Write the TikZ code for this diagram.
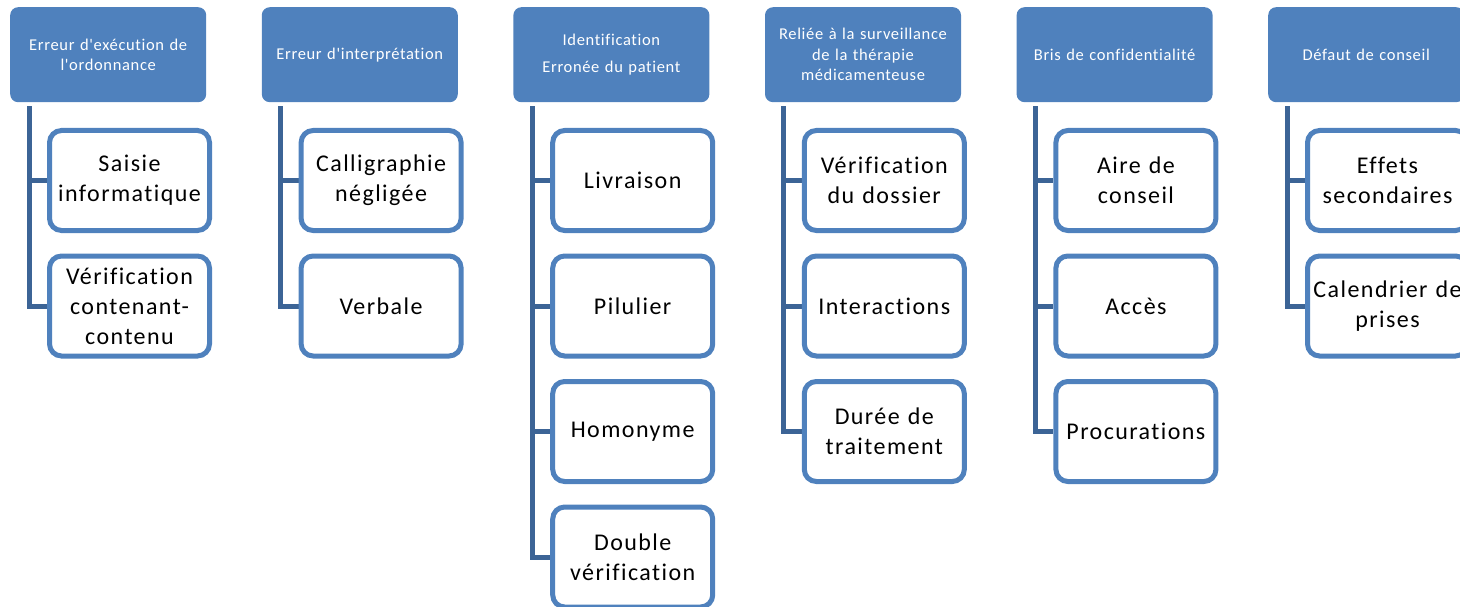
\documentclass[tikz,border=0pt]{standalone}
\usepackage{fontspec}
\setmainfont{Carlito}
\newfontfamily\hfont[LetterSpace=4,Ligatures=NoCommon]{Carlito}
\newfontfamily\cfont[LetterSpace=6,Ligatures=NoCommon]{Carlito}
\usetikzlibrary{backgrounds}
\definecolor{hblue}{HTML}{4F81BD}
\definecolor{lblue}{HTML}{3C6496}
\begin{document}
\begin{tikzpicture}[x=1pt,y=-1pt,
 head/.style={fill=hblue, rounded corners=8pt, minimum width=196pt, minimum height=95pt, text width=190pt, align=center, text=white, font=\hfont\fontsize{16.5}{20.5}\selectfont, inner sep=0pt, anchor=north west},
 item/.style={draw=hblue, line width=5pt, fill=white, rounded corners=12pt, minimum width=160pt, minimum height=100pt, text width=158pt, align=center, font=\cfont\fontsize{24}{30}\selectfont, inner sep=0pt, anchor=center},
 conn/.style={draw=lblue, line width=5pt}]
\useasboundingbox (0,0) rectangle (1460,607);
\clip (0,0) rectangle (1460,607);
% headers
\node[head] (h1) at (10,7) {Erreur d'exécution de\\l'ordonnance};
\node[head] (h2) at (261.6,7) {Erreur d'interprétation};
\node[head] (h3) at (513.2,7) {Identification\\[7pt]Erronée du patient};
\node[head] (h4) at (764.8,7) {Reliée à la surveillance\\de la thérapie\\médicamenteuse};
\node[head] (h5) at (1016.4,7) {Bris de confidentialité};
\node[head] (h6) at (1268,7) {Défaut de conseil};
% children
\node[item] (c1a) at (129.5,180.5) {Saisie\\informatique};
\node[item] (c1b) at (129.5,306) {Vérification\\contenant-\\contenu};
\node[item] (c2a) at (381.1,180.5) {Calligraphie\\négligée};
\node[item] (c2b) at (381.1,306) {Verbale};
\node[item] (c3a) at (632.7,180.5) {Livraison};
\node[item] (c3b) at (632.7,306) {Pilulier};
\node[item] (c3c) at (632.7,431.5) {Homonyme};
\node[item] (c3d) at (632.7,557) {Double\\vérification};
\node[item] (c4a) at (884.3,180.5) {Vérification\\du dossier};
\node[item] (c4b) at (884.3,306) {Interactions};
\node[item] (c4c) at (884.3,431.5) {Durée de\\traitement};
\node[item] (c5a) at (1135.9,180.5) {Aire de\\conseil};
\node[item] (c5b) at (1135.9,306) {Accès};
\node[item] (c5c) at (1135.9,431.5) {Procurations};
\node[item] (c6a) at (1387.5,180.5) {Effets\\secondaires};
\node[item] (c6b) at (1387.5,306) {Calendrier de\\prises};
% connectors
\begin{pgfonlayer}{background}
\foreach \h/\list in {h1/{c1a,c1b}, h2/{c2a,c2b}, h3/{c3a,c3b,c3c,c3d}, h4/{c4a,c4b,c4c}, h5/{c5a,c5b,c5c}, h6/{c6a,c6b}}{
  \foreach \c in \list {
    \draw[conn] ([xshift=19pt,yshift=-4pt]\h.south west) |- (\c.west);
  }
}
\end{pgfonlayer}
\end{tikzpicture}
\end{document}
